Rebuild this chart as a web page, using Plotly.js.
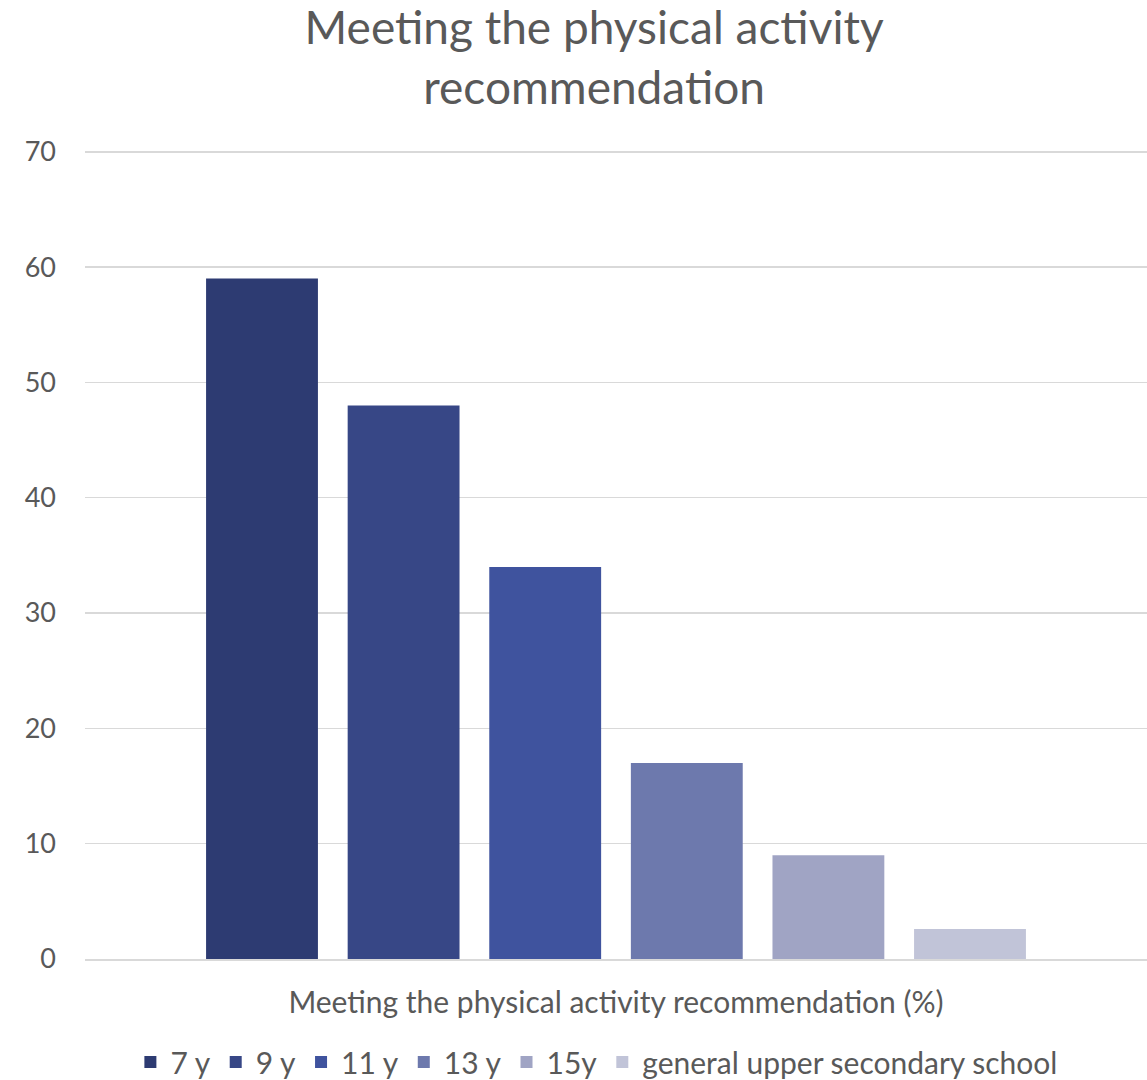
<!DOCTYPE html>
<html><head><meta charset="utf-8">
<script src="https://cdn.plot.ly/plotly-3.0.1.min.js"></script>
<style>body{margin:0;background:#fff}#chart{width:1147px;height:1080px}</style>
</head><body><div id="chart"></div>
<script>
const category = ["Meeting the physical activity recommendation (%)"];
const seriesNames = ["7 y", "9 y", "11 y", "13 y", "15y", "general upper secondary school"];
const seriesValues = [59, 48, 34, 17, 9, 2.6];
const seriesColors = ["#2d3b72", "#374786", "#3f539e", "#6d79ad", "#a0a4c4", "#c1c4d8"];
const yTicks = [0, 10, 20, 30, 40, 50, 60, 70];

const traces = seriesNames.map((n, i) => ({
  type: "bar", name: n, x: category, y: [seriesValues[i]],
  marker: {color: seriesColors[i]}, hoverinfo: "none"
}));

const layout = {
  width: 1147, height: 1080,
  margin: {l: 85, r: 0, t: 146, b: 121},
  paper_bgcolor: "#fff", plot_bgcolor: "#fff",
  font: {family: "Lato, 'Open Sans', sans-serif", color: "#595959"},
  title: {text: "Meeting the physical activity<br>recommendation", x: 0.518, xanchor: "center",
          yref: "container", y: 0.959, yanchor: "middle", automargin: false,
          font: {size: 46, color: "#595959"}},
  barmode: "group", bargap: 0.2, bargroupgap: 0.21,
  xaxis: {showline: true, linecolor: "#d9d9d9", linewidth: 1.5, automargin: false,
          tickfont: {size: 30, color: "#595959"}, ticks: "", ticklabelstandoff: 16},
  yaxis: {range: [0, 70.5], tickvals: yTicks, gridcolor: "#d9d9d9", gridwidth: 1.5, zeroline: false,
          automargin: false, tickfont: {size: 27, color: "#595959"}, ticklabelstandoff: 28},
  showlegend: true,
  legend: {orientation: "h", x: 0.482, xanchor: "center", yref: "container", y: 0.0167, yanchor: "middle",
           font: {size: 30, color: "#595959"}, itemwidth: 30, traceorder: "normal"}
};
Plotly.newPlot("chart", traces, layout, {staticPlot: true});
</script></body></html>
